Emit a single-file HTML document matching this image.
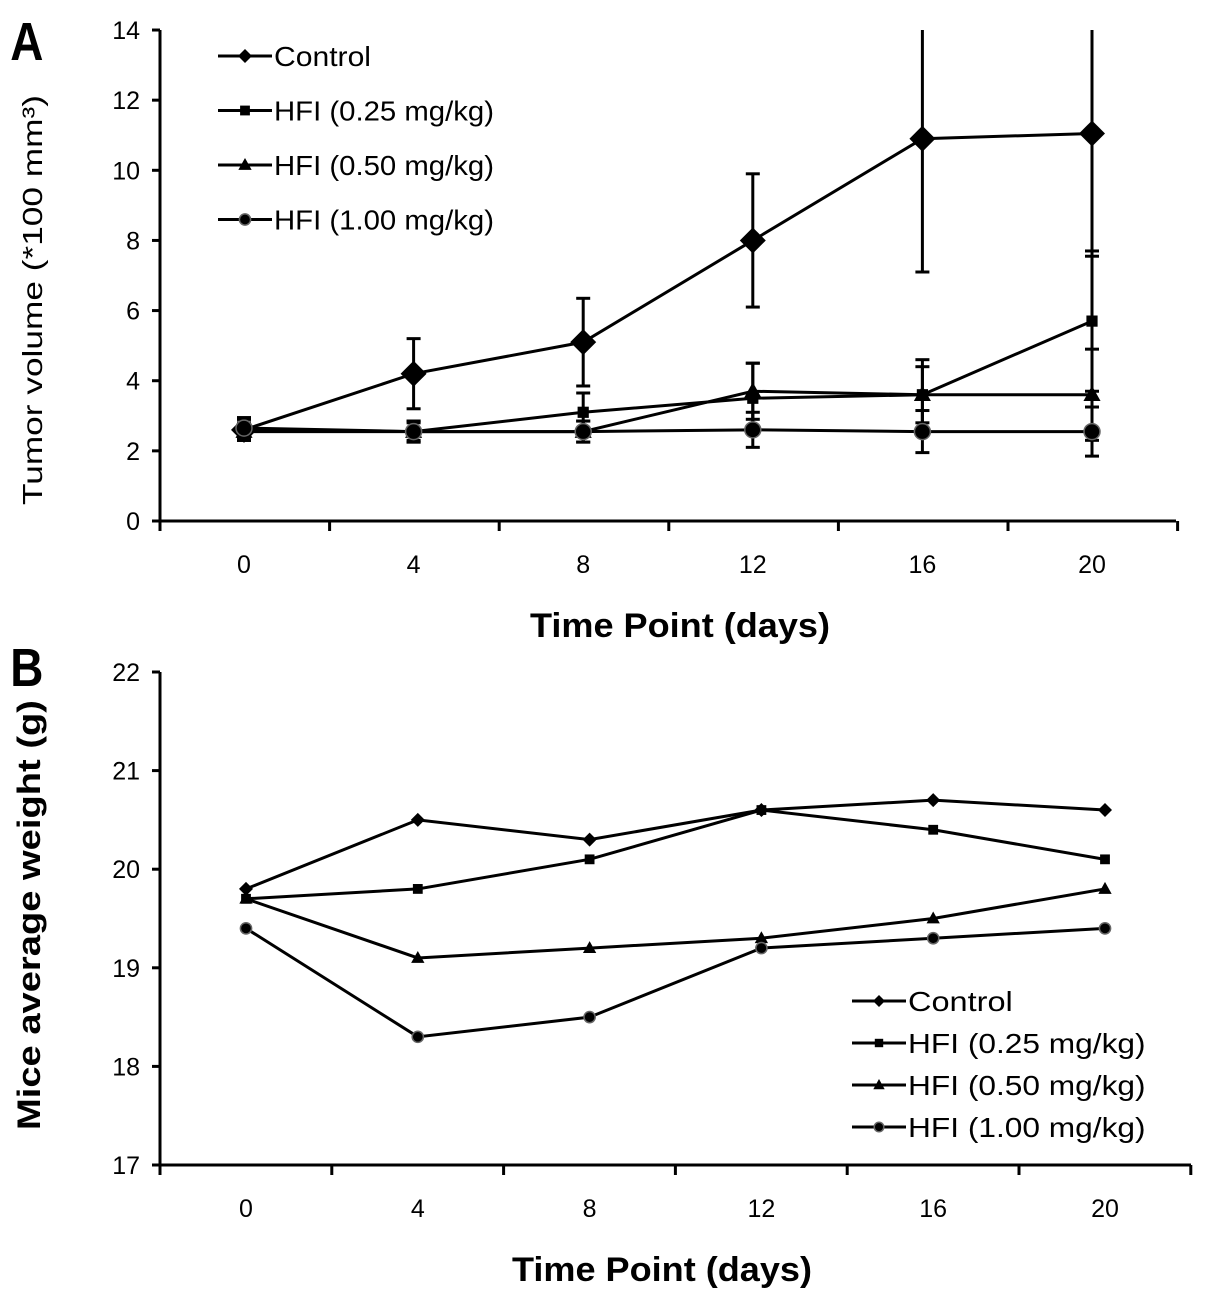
<!DOCTYPE html>
<html><head><meta charset="utf-8"><style>
body{margin:0;background:#fff;}
svg{display:block;font-family:"Liberation Sans",sans-serif;}
</style></head><body>
<svg id="c" width="1205" height="1303" viewBox="0 0 1205 1303"></svg>
<script>
const days=[0,4,8,12,16,20];
const seriesNames=["Control","HFI (0.25 mg/kg)","HFI (0.50 mg/kg)","HFI (1.00 mg/kg)"];
const legendLens=[97,220,220,220];
const markers=["diamond","square","triangle","circle"];
const aControl=[2.6,4.2,5.1,8.0,10.9,11.05];
const aLow=[2.6,2.55,3.1,3.5,3.6,5.7];
const aMid=[2.55,2.55,2.55,3.7,3.6,3.6];
const aHigh=[2.65,2.55,2.55,2.6,2.55,2.55];
const aControlErr=[0.3,1.0,1.25,1.9,3.8,3.5];
const aLowErr=[0.3,0.3,0.55,1.0,1.0,2.0];
const aMidErr=[0.25,0.25,0.3,0.8,0.8,1.3];
const aHighErr=[0.3,0.3,0.3,0.5,0.6,0.7];
const aYTicks=[0,2,4,6,8,10,12,14];
const bControl=[19.8,20.5,20.3,20.6,20.7,20.6];
const bLow=[19.7,19.8,20.1,20.6,20.4,20.1];
const bMid=[19.7,19.1,19.2,19.3,19.5,19.8];
const bHigh=[19.4,18.3,18.5,19.2,19.3,19.4];
const bYTicks=[17,18,19,20,21,22];

const NS="http://www.w3.org/2000/svg";
const svg=document.getElementById('c');
function el(tag,attrs,parent,text){const e=document.createElementNS(NS,tag);for(const k in attrs)e.setAttribute(k,attrs[k]);if(text!==undefined)e.textContent=text;(parent||svg).appendChild(e);return e;}
function marker(g,type,x,y,s){
  let m;
  if(type==="diamond")m=el('polygon',{points:`${x},${y-s} ${x+s},${y} ${x},${y+s} ${x-s},${y}`,fill:'#000'},g);
  else if(type==="square")m=el('rect',{x:x-s*0.7,y:y-s*0.7,width:s*1.4,height:s*1.4,fill:'#000'},g);
  else if(type==="triangle")m=el('polygon',{points:`${x},${y-s} ${x+s*0.95},${y+s*0.7} ${x-s*0.95},${y+s*0.7}`,fill:'#000'},g);
  else m=el('circle',{cx:x,cy:y,r:s*0.8,fill:'#000',stroke:'#666','stroke-width':1.5},g);
  
  
}
function panel(o){
  const X=d=>o.x0+d/4*o.dx, Y=v=>o.yb-(v-o.ymin)*o.py;
  const g=el('g',{});
  
  
  el('line',{x1:o.ax,y1:o.top,x2:o.ax,y2:o.yb+1,stroke:'#000','stroke-width':3},g);
  el('line',{x1:o.ax-1,y1:o.yb,x2:o.xend,y2:o.yb,stroke:'#000','stroke-width':3},g);
  for(let i=0;i<=6;i++){const tx=o.ax+i*o.dx;el('line',{x1:tx,y1:o.yb,x2:tx,y2:o.yb+10,stroke:'#000','stroke-width':3},g);}
  days.forEach(d=>{const t=el('text',{x:X(d),y:o.yb+52,'font-size':25,'text-anchor':'middle'},g,String(d));});
  o.yticks.forEach(v=>{el('line',{x1:o.ax-8,y1:Y(v),x2:o.ax,y2:Y(v),stroke:'#000','stroke-width':3},g);
    const t=el('text',{x:o.ax-20,y:Y(v)+9,'font-size':25,'text-anchor':'end'},g,String(v));});
  const xt=el('text',{x:o.xtx-o.xtl/2,y:o.yb+116,'font-size':34,'font-weight':'bold',textLength:o.xtl,lengthAdjust:'spacingAndGlyphs'},g,'Time Point  (days)');
  
  const yt=el('text',{x:-o.ytl/2,y:0,'font-size':o.ytSize,'font-weight':o.ytBold?'bold':'normal',textLength:o.ytl,lengthAdjust:'spacingAndGlyphs',transform:`translate(${o.ytx},${o.yty}) rotate(-90)`},g,o.ytitle);
  
  o.series.forEach((s,i)=>{
    const sg=el('g',{},g);
    
    
    if(o.errs){s.forEach((v,j)=>{const e=o.errs[i][j];const x=X(days[j]);
      const y1=Math.max(Y(v+e),o.top);const y2=Y(v-e);
      el('line',{x1:x,y1:y1,x2:x,y2:y2,stroke:'#000','stroke-width':3},sg);
      if(Y(v+e)>=o.top)el('line',{x1:x-7,y1:y1,x2:x+7,y2:y1,stroke:'#000','stroke-width':3},sg);
      el('line',{x1:x-7,y1:y2,x2:x+7,y2:y2,stroke:'#000','stroke-width':3},sg);});}
    el('polyline',{points:s.map((v,j)=>X(days[j])+','+Y(v)).join(' '),fill:'none',stroke:'#000','stroke-width':3},sg);
    s.forEach((v,j)=>marker(sg,markers[i],X(days[j]),Y(v),o.ms[i]));
  });
  seriesNames.forEach((n,i)=>{const ly=o.ly+i*o.lgap;
    const lg=el('g',{},g);
    
    
    el('line',{x1:o.lx,y1:ly,x2:o.lx+54,y2:ly,stroke:'#000','stroke-width':3},lg);
    marker(lg,markers[i],o.lx+27,ly,o.lms);
    el('text',{x:o.lx+56,y:ly+10,'font-size':28,textLength:legendLens[i]*o.lscale,lengthAdjust:'spacingAndGlyphs'},lg,n);});
}
panel({name:'panel-a',ax:160,x0:244,dx:169.6,yb:521,top:30,xend:1176,ymin:0,py:35.07,yticks:aYTicks,
  series:[aControl,aLow,aMid,aHigh],errs:[aControlErr,aLowErr,aMidErr,aHighErr],ms:[13,8,9,10],
  xtx:680,xtl:300,ytitle:'Tumor volume (*100 mm³)',ytSize:28,ytBold:false,ytl:410,ytx:42,yty:300,lx:218,ly:56,lgap:54.5,lms:7,lscale:1});
panel({name:'panel-b',ax:160,x0:246,dx:171.8,yb:1165,top:672,xend:1191,ymin:17,py:98.6,yticks:bYTicks,
  series:[bControl,bLow,bMid,bHigh],errs:null,ms:[7,7,7,7],
  xtx:662,xtl:300,ytitle:'Mice average weight  (g)',ytSize:32,ytBold:true,ytl:430,ytx:40,yty:915,lx:852,ly:1001,lgap:42,lms:6,lscale:1.08});
const la=el('text',{x:12,y:60,'font-size':54,'font-weight':'bold',transform:'scale(0.85,1)'},svg,'A');

const lb=el('text',{x:12,y:686,'font-size':54,'font-weight':'bold',transform:'scale(0.85,1)'},svg,'B');

</script>
</body></html>
